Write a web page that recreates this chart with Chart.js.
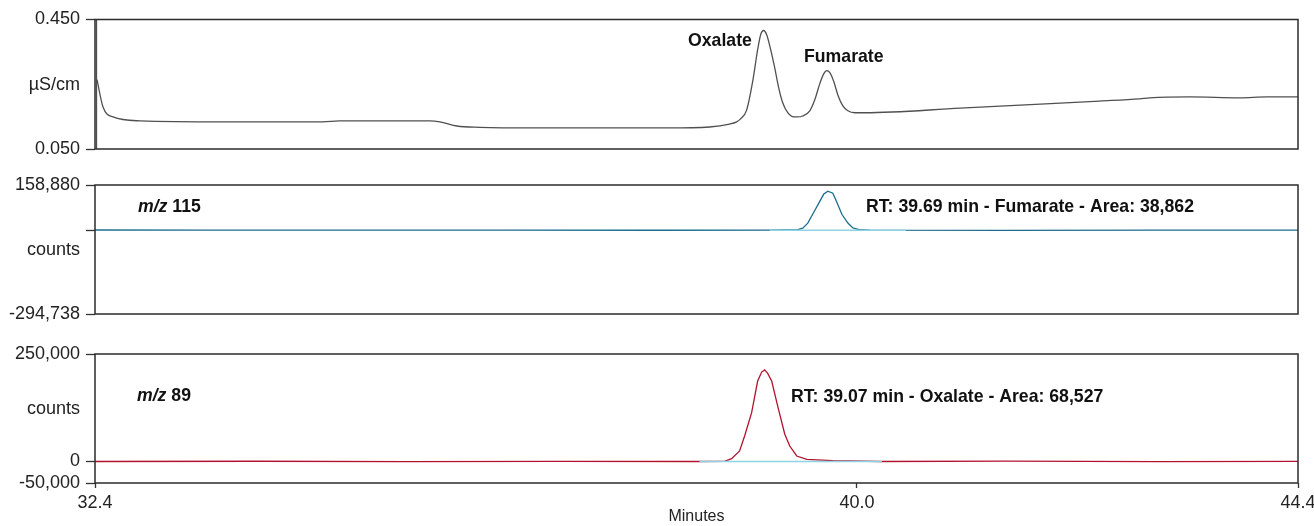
<!DOCTYPE html>
<html>
<head>
<meta charset="utf-8">
<title>Oxalate / Fumarate</title>
<script src="https://cdn.jsdelivr.net/npm/chart.js@4.4.1/dist/chart.umd.min.js"></script>
<style>
  html, body { margin: 0; padding: 0; background: #fff; }
  #wrap { position: relative; width: 1314px; height: 526px; }
  #wrap canvas { position: absolute; left: 0; top: 0; }
</style>
</head>
<body>
<div id="wrap">
  <canvas id="cond" width="1314" height="526"></canvas>
  <canvas id="mz115" width="1314" height="526"></canvas>
  <canvas id="mz89" width="1314" height="526"></canvas>
</div>
<script>
// time axis (minutes)
const timeMin = 32.4;
const timeMax = 44.4;
const timeTicks = [32.4, 40.0, 44.4];
const timeTickLabels = ['32.4', '40.0', '44.4'];

// conductivity detector, µS/cm
const condSpikeTime = [32.415, 32.415];
const condSpikeValue = [0.05, 0.45];
const condTime = [
  32.42, 32.48, 32.58, 32.85, 33.68, 34.67, 34.84, 35.74, 35.84, 36.01,
  36.24, 36.77, 38.11, 38.53, 38.73, 38.80, 38.84, 38.90, 38.96, 39.01,
  39.04, 39.07, 39.10, 39.14, 39.18, 39.22, 39.26, 39.31, 39.35, 39.40,
  39.46, 39.53, 39.58, 39.63, 39.67, 39.70, 39.73, 39.77, 39.81, 39.86,
  39.91, 39.98, 40.08, 41.03, 41.93, 42.42, 42.82, 42.92, 43.32, 43.82,
  44.09, 44.40
];
const condValue = [
  0.264, 0.180, 0.149, 0.137, 0.134, 0.134, 0.137, 0.137, 0.134, 0.121,
  0.117, 0.115, 0.115, 0.118, 0.127, 0.134, 0.143, 0.170, 0.258, 0.357,
  0.403, 0.416, 0.403, 0.357, 0.301, 0.239, 0.193, 0.162, 0.151, 0.149,
  0.152, 0.168, 0.202, 0.252, 0.283, 0.292, 0.286, 0.258, 0.217, 0.183,
  0.168, 0.162, 0.162, 0.176, 0.190, 0.198, 0.205, 0.208, 0.211, 0.208,
  0.211, 0.211
];
const condTicks = [0.45, 0.248, 0.05];
const condTickLabels = ['0.450', 'µS/cm', '0.050'];

// m/z 115 extracted ion, counts
const mz115Time = [
  32.4, 33.5, 35.0, 36.5, 38.0, 39.13, 39.41, 39.46, 39.51, 39.57,
  39.62, 39.67, 39.71, 39.76, 39.80, 39.85, 39.91, 39.96, 40.03, 40.13,
  41.5, 43.0, 44.4
];
const mz115Count = [
  600, 300, 0, 400, -300, 0, 2000, 7000, 24600, 63000,
  95000, 127000, 137000, 130000, 98000, 56000, 25000, 8000, 1500, 0,
  -400, 300, 0
];
const mz115BaseTime = [39.13, 40.49];
const mz115BaseCount = [0, 0];
const mz115Ticks = [158880, 0, -70000, -294738];
const mz115TickLabels = ['158,880', '', 'counts', '-294,738'];

// m/z 89 extracted ion, counts
const mz89Time = [
  32.4, 34.0, 35.5, 37.0, 38.43, 38.68, 38.75, 38.83, 38.88, 38.95,
  39.01, 39.05, 39.08, 39.11, 39.15, 39.21, 39.28, 39.33, 39.40, 39.50,
  39.76, 40.23, 41.5, 43.0, 44.4
];
const mz89Count = [
  0, 600, -400, 500, 0, 500, 6500, 24400, 59300, 113500,
  187200, 208000, 213000, 205000, 187200, 129000, 64000, 36000, 12800, 5100,
  1900, 0, 700, -300, 500
];
const mz89BaseTime = [38.43, 40.25];
const mz89BaseCount = [0, 0];
const mz89Ticks = [250000, 122000, 0, -50000];
const mz89TickLabels = ['250,000', 'counts', '0', '-50,000'];

const unitLabels = ['µS/cm', 'counts'];
const FONT = '"Liberation Sans", Arial, sans-serif';
const TEXT = '#222';

function points(xs, ys) {
  return xs.map((x, i) => ({ x: x, y: ys[i] }));
}

// box round the plot area
const frame = {
  id: 'frame',
  afterDatasetsDraw(chart) {
    const a = chart.chartArea;
    const ctx = chart.ctx;
    ctx.save();
    ctx.strokeStyle = '#2b2b2b';
    ctx.lineWidth = 1.5;
    ctx.strokeRect(a.left, a.top, a.right - a.left, a.bottom - a.top);
    ctx.restore();
  }
};

// bold, slightly narrow peak captions
function captions(items) {
  return {
    id: 'captions',
    afterDraw(chart) {
      const ctx = chart.ctx;
      items.forEach(item => {
        ctx.save();
        ctx.translate(item.x, item.y);
        ctx.scale(0.93, 1);
        ctx.fillStyle = '#111';
        ctx.textBaseline = 'alphabetic';
        let x = 0;
        item.parts.forEach(p => {
          ctx.font = (p.italic ? 'italic ' : '') + 'bold 19px ' + FONT;
          ctx.fillText(p.text, x, 0);
          x += ctx.measureText(p.text).width;
        });
        ctx.restore();
      });
    }
  };
}

function yScale(min, max, ticks, labels) {
  return {
    min: min,
    max: max,
    afterFit(s) { s.width = 95; },
    afterBuildTicks(s) { s.ticks = ticks.map(v => ({ value: v })); },
    ticks: {
      autoSkip: false,
      padding: 6,
      color: TEXT,
      font: { family: FONT, size: 18 },
      callback: (v, i) => labels[i]
    },
    grid: {
      drawOnChartArea: false,
      tickLength: 9,
      tickWidth: 1.3,
      tickColor: c => unitLabels.includes(labels[c.index]) ? 'rgba(0,0,0,0)' : '#333'
    },
    border: { display: false }
  };
}

function hiddenX() {
  return { type: 'linear', min: timeMin, max: timeMax, display: false };
}

function shownX() {
  return {
    type: 'linear',
    min: timeMin,
    max: timeMax,
    afterFit(s) {
      s.height = 43;
      // let the 44.4 label hang past the frame instead of shrinking the plot
      s.paddingLeft = 0;
      s.paddingRight = 0;
    },
    afterBuildTicks(s) { s.ticks = timeTicks.map(v => ({ value: v })); },
    ticks: {
      autoSkip: false,
      maxRotation: 0,
      padding: 4,
      color: TEXT,
      font: { family: FONT, size: 18 },
      callback: (v, i) => timeTickLabels[i]
    },
    grid: { drawOnChartArea: false, tickLength: 5, tickWidth: 1.3, tickColor: '#333' },
    border: { display: false },
    title: {
      display: true,
      text: 'Minutes',
      color: TEXT,
      padding: 0,
      font: { family: FONT, size: 16 }
    }
  };
}

function panel(id, datasets, padding, x, y, items) {
  return new Chart(document.getElementById(id), {
    type: 'line',
    data: { datasets: datasets },
    options: {
      responsive: false,
      animation: false,
      events: [],
      layout: { padding: padding },
      elements: { point: { radius: 0 } },
      plugins: { legend: { display: false }, tooltip: { enabled: false } },
      scales: { x: x, y: y }
    },
    plugins: [frame, captions(items)]
  });
}

panel('cond', [
  { data: points(condSpikeTime, condSpikeValue), borderColor: '#505050', borderWidth: 1.3, tension: 0 },
  { data: points(condTime, condValue), borderColor: '#505050', borderWidth: 1.3, cubicInterpolationMode: 'monotone' }
], { top: 19.5, right: 16, bottom: 377, left: 0 },
  hiddenX(), yScale(0.05, 0.45, condTicks, condTickLabels),
  [
    { x: 688, y: 46, parts: [{ text: 'Oxalate' }] },
    { x: 804, y: 61.5, parts: [{ text: 'Fumarate' }] }
  ]);

panel('mz115', [
  { data: points(mz115BaseTime, mz115BaseCount), borderColor: '#8ed4e2', borderWidth: 1.5, order: 0 },
  { data: points(mz115Time, mz115Count), borderColor: '#1b6d8c', borderWidth: 1.3, tension: 0, order: 1 }
], { top: 185, right: 16, bottom: 212, left: 0 },
  hiddenX(), yScale(-294738, 158880, mz115Ticks, mz115TickLabels),
  [
    { x: 138, y: 212, parts: [{ text: 'm/z', italic: true }, { text: ' 115' }] },
    { x: 866, y: 211.5, parts: [{ text: 'RT: 39.69 min - Fumarate - Area: 38,862' }] }
  ]);

panel('mz89', [
  { data: points(mz89BaseTime, mz89BaseCount), borderColor: '#8ed4e2', borderWidth: 1.5, order: 0 },
  { data: points(mz89Time, mz89Count), borderColor: '#b3122e', borderWidth: 1.3, tension: 0, order: 1 }
], { top: 354, right: 16, bottom: 0, left: 0 },
  shownX(), yScale(-50000, 250000, mz89Ticks, mz89TickLabels),
  [
    { x: 137, y: 400.5, parts: [{ text: 'm/z', italic: true }, { text: ' 89' }] },
    { x: 791, y: 401.5, parts: [{ text: 'RT: 39.07 min - Oxalate - Area: 68,527' }] }
  ]);
</script>
</body>
</html>
